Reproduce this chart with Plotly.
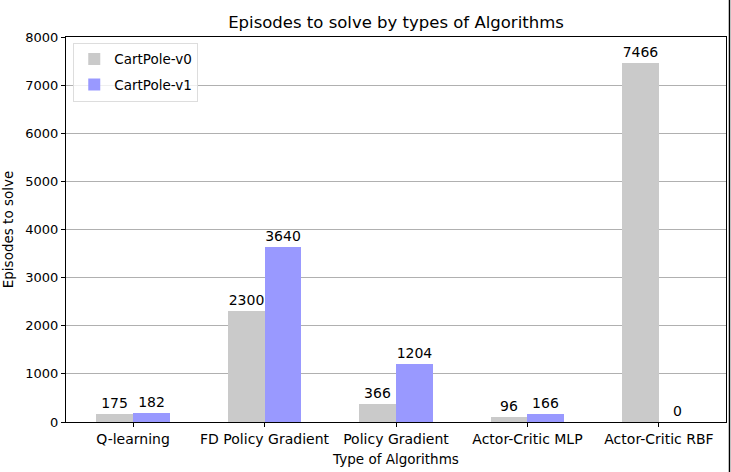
import plotly.graph_objects as go

categories = ["Q-learning", "FD Policy Gradient", "Policy Gradient", "Actor-Critic MLP", "Actor-Critic RBF"]
v0 = [175, 2300, 366, 96, 7466]
v1 = [182, 3640, 1204, 166, 0]
series_names = ["CartPole-v0", "CartPole-v1"]
y_ticks = [0, 1000, 2000, 3000, 4000, 5000, 6000, 7000, 8000]

W = 0.28
xs = list(range(len(categories)))
font = "DejaVu Sans"

fig = go.Figure()
fig.add_trace(go.Bar(x=[x - W / 2 for x in xs], y=v0, width=W, name=series_names[0],
                     legendgroup="a",
                     marker=dict(color="#cacaca", line=dict(width=0)),
                     text=[str(v) for v in v0], textposition="outside", cliponaxis=False,
                     textfont=dict(color="black", size=14, family=font)))
fig.add_trace(go.Bar(x=[x + W / 2 for x in xs], y=v1, width=W, name=series_names[1],
                     legendgroup="b",
                     marker=dict(color="#9999ff", line=dict(width=0)),
                     text=[str(v) for v in v1], textposition="outside", cliponaxis=False,
                     textfont=dict(color="black", size=14, family=font)))

fig.update_layout(
    width=731, height=472,
    margin=dict(l=66, r=5, t=37, b=50, autoexpand=False),
    paper_bgcolor="white", plot_bgcolor="white",
    font=dict(family=font, size=13, color="black"),
    title=dict(text="Episodes to solve by types of Algorithms", x=0.5, xanchor="center",
               xref="paper", y=1 - 22 / 472, yanchor="middle", automargin=False,
               font=dict(size=16.5, family=font, color="black")),
    barmode="overlay", bargap=0,
    showlegend=True,
    legend=dict(x=0.011, y=0.985, xanchor="left", yanchor="top",
                bgcolor="rgba(255,255,255,0.8)", bordercolor="#dddddd", borderwidth=1,
                font=dict(size=13.5, family=font), tracegroupgap=5, itemwidth=30),
)
fig.update_xaxes(range=[-0.51, 4.51], tickvals=xs, ticktext=categories, automargin=False,
                 showline=True, linecolor="black", linewidth=1, mirror=True,
                 ticks="outside", ticklen=4, tickcolor="black", showgrid=False,
                 tickfont=dict(size=14),
                 title=dict(text="Type of Algorithms", standoff=8, font=dict(size=13.5, color="black")),
                 zeroline=False)
fig.update_yaxes(range=[0, 8000], tickvals=y_ticks, automargin=False,
                 showline=True, linecolor="black", linewidth=1, mirror=True,
                 ticks="outside", ticklen=4, tickcolor="black",
                 showgrid=True, gridcolor="#b0b0b0", gridwidth=1,
                 tickfont=dict(size=13),
                 title=dict(text="Episodes to solve", standoff=8, font=dict(size=13.5, color="black")),
                 zeroline=False)
fig.add_shape(type="line", xref="paper", yref="paper", x0=1 + 3.5 / 660, x1=1 + 3.5 / 660,
              y0=-50 / 385, y1=1 + 37 / 385, line=dict(color="black", width=1.5))
fig.write_html("out.html", post_script="document.body.style.margin='0';",
               config={"displayModeBar": False})
